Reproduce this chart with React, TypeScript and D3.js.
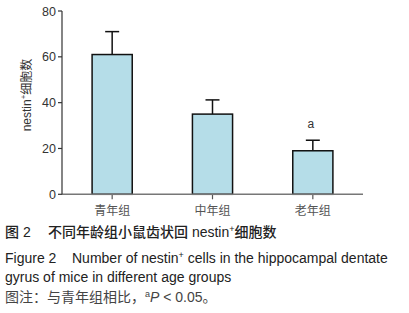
import React from "react";
import * as d3 from "d3";

const categories = ["青年组", "中年组", "老年组"];
const means = [61, 35, 19];
const upper = [71, 41.2, 23.6];
const sigLabels = ["", "", "a"];
const yTicks = [0, 20, 40, 60, 80];

const W = 409;
const H = 313;

export default function App() {
  const y = d3.scaleLinear().domain([0, 80]).range([194.3, 11]);
  const x = d3
    .scaleBand<string>()
    .domain(categories)
    .range([62, 363])
    .paddingInner(0.6)
    .paddingOuter(0.3);
  const bw = x.bandwidth();
  const sans = "'Liberation Sans', Arial, sans-serif";
  const cjk = "'Liberation Sans', 'Noto Sans CJK SC', sans-serif";
  const capHalf = 7;

  return (
    <svg
      width={W}
      height={H}
      style={{ position: "fixed", left: 0, top: 0, background: "#fff" }}
      fontFamily={sans}
    >
      {/* bars */}
      {categories.map((c, i) => {
        const x0 = x(c)!;
        const cx = x0 + bw / 2;
        return (
          <g key={c}>
            <line x1={cx} x2={cx} y1={y(means[i])} y2={y(upper[i])} stroke="#111" strokeWidth={1.5} />
            <line x1={cx - capHalf} x2={cx + capHalf} y1={y(upper[i])} y2={y(upper[i])} stroke="#111" strokeWidth={1.5} />
            <rect
              x={x0}
              y={y(means[i])}
              width={bw}
              height={y(0) - y(means[i])}
              fill="#b5dde8"
              stroke="#111"
              strokeWidth={1.5}
            />
            {sigLabels[i] && (
              <text x={cx - 2} y={y(upper[i]) - 12} textAnchor="middle" fontSize={12} fill="#333">
                {sigLabels[i]}
              </text>
            )}
            <line x1={cx} x2={cx} y1={y(0)} y2={y(0) + 5} stroke="#555" strokeWidth={1.2} />
            <text x={cx} y={y(0) + 21} textAnchor="middle" fontSize={12} fill="#555" fontFamily={cjk}>
              {c}
            </text>
          </g>
        );
      })}
      {/* x axis */}
      <line x1={62} x2={363} y1={y(0)} y2={y(0)} stroke="#777" strokeWidth={1.5} />
      {/* y axis */}
      <line x1={62} x2={62} y1={y(80)} y2={y(0)} stroke="#333" strokeWidth={1.2} />
      {yTicks.map((t) => (
        <g key={t}>
          <line x1={58} x2={62} y1={y(t)} y2={y(t)} stroke="#333" strokeWidth={1.2} />
          <text x={56} y={y(t) + 4.5} textAnchor="end" fontSize={12.5} fill="#333">
            {t}
          </text>
        </g>
      ))}
      {/* y label */}
      <text
        transform={`translate(31,${95}) rotate(-90)`}
        textAnchor="middle"
        fontSize={12}
        fill="#333"
        fontFamily={cjk}
      >
        nestin
        <tspan fontSize={8} dy={-5}>+</tspan>
        <tspan dy={5}>细胞数</tspan>
      </text>
      {/* caption */}
      <g fontFamily={cjk} fontSize={14}>
        <text x={5} y={237} fill="#222" fontWeight={500}>图 2</text>
        <text x={48} y={237} fill="#222" fontWeight={500}>
          不同年龄组小鼠齿状回 nestin
          <tspan fontSize={9} dy={-5}>+</tspan>
          <tspan dy={5}>细胞数</tspan>
        </text>
        <text x={5} y={263} fill="#222">Figure 2</text>
        <text x={72} y={263} fill="#222">
          Number of nestin
          <tspan fontSize={9} dy={-5}>+</tspan>
          <tspan dy={5}> cells in the hippocampal dentate</tspan>
        </text>
        <text x={5} y={282} fill="#222">gyrus of mice in different age groups</text>
        <text x={5} y={302} fill="#444">
          图注：与青年组相比，
          <tspan fontSize={9} dy={-5}>a</tspan>
          <tspan dy={5} fontStyle="italic">P</tspan>
          <tspan> &lt; 0.05。</tspan>
        </text>
      </g>
    </svg>
  );
}
